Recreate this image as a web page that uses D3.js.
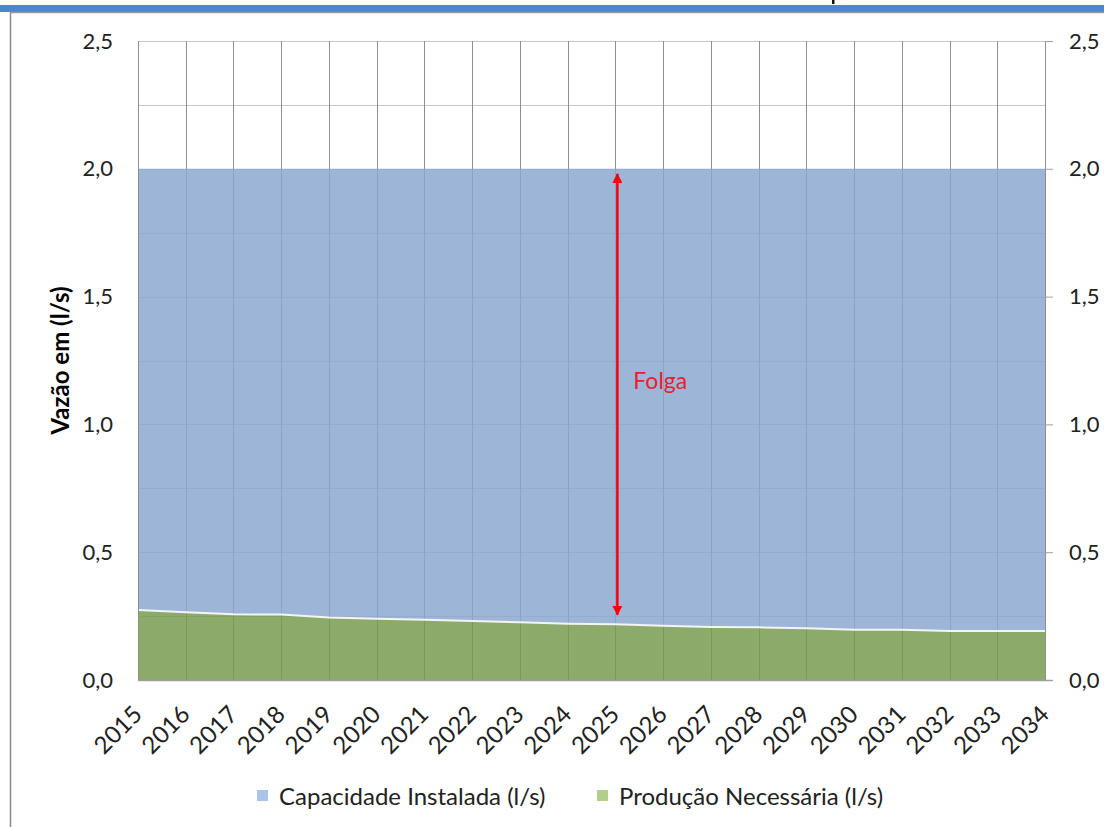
<!DOCTYPE html>
<html><head><meta charset="utf-8">
<script src="https://cdn.jsdelivr.net/npm/d3@7/dist/d3.min.js"></script>
<style>body{margin:0;background:#fff;}svg{display:block;}text{font-family:Lato,"Open Sans",sans-serif;}</style>
</head><body>
<svg id="c" width="1104" height="827"></svg>
<script>
const years = [2015,2016,2017,2018,2019,2020,2021,2022,2023,2024,2025,2026,2027,2028,2029,2030,2031,2032,2033,2034];
const capacidade = [2.0,2.0,2.0,2.0,2.0,2.0,2.0,2.0,2.0,2.0,2.0,2.0,2.0,2.0,2.0,2.0,2.0,2.0,2.0,2.0];
const producao = [0.274,0.265,0.257,0.256,0.245,0.240,0.236,0.231,0.226,0.220,0.218,0.212,0.207,0.206,0.202,0.197,0.197,0.192,0.192,0.192];
const yTicks = [0,0.5,1.0,1.5,2.0,2.5];
const yGrid = [0.25,0.5,0.75,1.0,1.25,1.5,1.75,2.0,2.25,2.5];
const seriesNames = ["Capacidade Instalada (l/s)","Produção Necessária (l/s)"];
const yTitle = "Vazão em (l/s)";
const folgaLabel = "Folga";

const svg = d3.select("#c");
const L = 138, R = 1045, T = 41, B = 680;
const x = d3.scalePoint().domain(years).range([L, R]);
const y = d3.scaleLinear().domain([0, 2.5]).range([B, T]);
const fmt = d => d.toFixed(1).replace(".", ",");

// frame decorations (fragment of a cut-off title glyph, blue band, borders)
svg.append("rect").attr("x", 832).attr("y", 0).attr("width", 2.5).attr("height", 4).attr("fill", "#111");
svg.append("rect").attr("x", 0).attr("y", 5).attr("width", 1104).attr("height", 7).attr("fill", "#4d86cf");
svg.append("line").attr("x1", 10).attr("x2", 1104).attr("y1", 12.5).attr("y2", 12.5).attr("stroke", "#9a9a9a").attr("stroke-width", 1.5);
svg.append("line").attr("x1", 10.5).attr("x2", 10.5).attr("y1", 12).attr("y2", 827).attr("stroke", "#8c8c8c").attr("stroke-width", 1.5);

// gridlines (behind areas)
const g = svg.append("g");
g.selectAll(".hg").data(yGrid).join("line")
  .attr("x1", L).attr("x2", R).attr("y1", d => Math.round(y(d)) + 0.5).attr("y2", d => Math.round(y(d)) + 0.5)
  .attr("stroke", "#c8c8c8").attr("stroke-width", 1);
g.selectAll(".vg").data(years).join("line")
  .attr("x1", d => Math.round(x(d)) + 0.5).attr("x2", d => Math.round(x(d)) + 0.5).attr("y1", T).attr("y2", B)
  .attr("stroke", "#8e8e8e").attr("stroke-width", 1);

// areas
const idx = d3.range(years.length);
const blueArea = d3.area().x(i => x(years[i])).y0(i => y(producao[i])).y1(i => y(capacidade[i]));
const greenArea = d3.area().x(i => x(years[i])).y0(y(0)).y1(i => y(producao[i]));
svg.append("path").attr("d", blueArea(idx)).attr("fill", "#8aa8d1").attr("fill-opacity", 0.84);
svg.append("path").attr("d", greenArea(idx)).attr("fill", "#769a4c").attr("fill-opacity", 0.84);
svg.append("path").attr("d", d3.line().x(i => x(years[i])).y(i => y(producao[i]))(idx))
  .attr("fill", "none").attr("stroke", "#f4f4f4").attr("stroke-width", 2);

// axes
const yl = svg.append("g").attr("transform", `translate(${L},0)`)
  .call(d3.axisLeft(y).tickValues(yTicks).tickFormat(fmt).tickSize(0).tickPadding(25));
yl.select(".domain").attr("stroke", "#8e8e8e");
yl.selectAll("text").attr("font-size", 22).attr("fill", "#222").attr("font-family", "Lato");
const yr = svg.append("g").attr("transform", `translate(${R},0)`)
  .call(d3.axisRight(y).tickValues(yTicks).tickFormat(fmt).tickSize(8).tickPadding(16));
yr.select(".domain").remove();
yr.selectAll("line").attr("stroke", "#a0a0a0");
yr.selectAll("text").attr("font-size", 22).attr("fill", "#222").attr("font-family", "Lato");

const xa = svg.append("g").attr("transform", `translate(0,${B})`)
  .call(d3.axisBottom(x).tickSize(0).tickPadding(0));
xa.select(".domain").attr("stroke", "#a0a0a0").attr("stroke-width", 1.5).attr("d", `M${L},0.5H${R + 8}`);
xa.selectAll("text").attr("font-size", 24).attr("fill", "#222").attr("font-family", "Lato")
  .attr("text-anchor", "end").attr("dy", 0)
  .attr("transform", "translate(5,36) rotate(-45)");

// y title
svg.append("text").attr("transform", `translate(69,${(T + B) / 2}) rotate(-90)`)
  .attr("text-anchor", "middle").attr("font-size", 24).attr("font-weight", "bold").attr("fill", "#000").text(yTitle);

// Folga arrow
const defs = svg.append("defs");
defs.append("marker").attr("id", "ah").attr("viewBox", "0 0 10 10").attr("refX", 9).attr("refY", 5)
  .attr("markerWidth", 4).attr("markerHeight", 4).attr("orient", "auto-start-reverse").attr("markerUnits", "strokeWidth")
  .append("path").attr("d", "M0,0L10,5L0,10Z").attr("fill", "#ff0000");
const ax = x(2025) + 2;
svg.append("line").attr("x1", ax).attr("x2", ax).attr("y1", y(1.98)).attr("y2", y(0.255))
  .attr("stroke", "#ff0000").attr("stroke-width", 2.5)
  .attr("marker-start", "url(#ah)").attr("marker-end", "url(#ah)");
svg.append("text").attr("x", ax + 16).attr("y", 389).attr("font-size", 23).attr("fill", "#e8202a").text(folgaLabel);

// legend
const lg = svg.append("g");
const legColors = ["#a9c4eb", "#b3cd8d"];
const legX = [257, 597];
seriesNames.forEach((n, i) => {
  lg.append("rect").attr("x", legX[i]).attr("y", 790).attr("width", 11).attr("height", 11).attr("fill", legColors[i]);
  lg.append("text").attr("x", legX[i] + 22).attr("y", 805).attr("font-size", 24).attr("fill", "#222").text(n);
});
</script>
</body></html>
